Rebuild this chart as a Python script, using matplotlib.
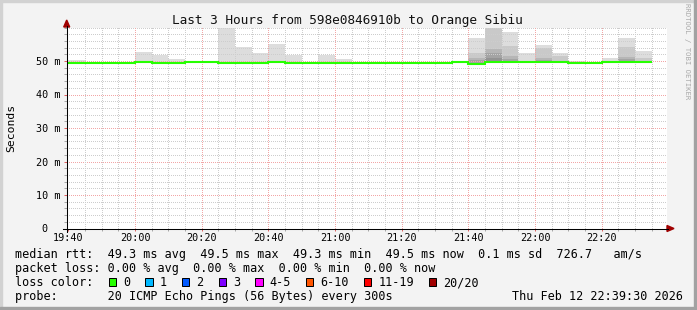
import numpy as np
import pandas as pd
import matplotlib
matplotlib.use("Agg")
import matplotlib.pyplot as plt
from matplotlib.patches import Rectangle, Polygon
from matplotlib.ticker import MultipleLocator, FixedLocator

plt.rcParams['font.family'] = ['DejaVu Sans Mono']

title = "Last 3 Hours from 598e0846910b to Orange Sibiu"
x_tick_labels = ["19:40", "20:00", "20:20", "20:40", "21:00", "21:20", "21:40", "22:00", "22:20"]
y_tick_values = [0, 10, 20, 30, 40, 50]
y_tick_labels = ["0", "10 m", "20 m", "30 m", "40 m", "50 m"]

# median RTT per 5-minute step (ms), steps 19:40 ... 22:35
median_ms = [49.3, 49.3, 49.3, 49.3, 49.6, 49.3, 49.3, 49.6, 49.6, 49.3,
             49.3, 49.3, 49.6, 49.3, 49.3, 49.3, 49.3, 49.3, 49.3, 49.3,
             49.3, 49.3, 49.3, 49.6, 49.2, 49.6, 49.6, 49.6, 49.6, 49.6,
             49.3, 49.3, 49.6, 49.6, 49.6]
ping_min_ms = [49.1, 49.1, 49.1, 49.1, 49.4, 49.1, 49.1, 49.4, 49.4, 49.1,
               49.1, 49.1, 49.4, 49.1, 49.1, 49.1, 49.1, 49.1, 49.1, 49.1,
               49.1, 49.1, 49.1, 49.4, 49.0, 49.4, 49.4, 49.4, 49.4, 49.4,
               49.1, 49.1, 49.4, 49.4, 49.4]
# smoke levels (outermost / lightest first)
smoke_1 = [50.3, 49.3, 49.3, 49.3, 52.7, 51.9, 50.5, 49.6, 49.6, 65.0,
           54.3, 52.3, 55.1, 51.9, 49.3, 51.9, 50.5, 49.3, 49.3, 49.3,
           49.3, 49.3, 49.3, 49.6, 57.0, 65.0, 58.7, 52.5, 54.8, 52.5,
           50.1, 49.3, 51.0, 57.0, 53.0]
smoke_2 = [49.3, 49.3, 49.3, 49.3, 49.6, 49.3, 49.3, 49.6, 49.6, 49.3,
           49.3, 49.3, 49.6, 49.3, 49.3, 49.3, 49.3, 49.3, 49.3, 49.3,
           49.3, 49.3, 49.3, 49.6, 52.4, 65.0, 54.5, 49.6, 54.0, 51.6,
           49.3, 49.3, 49.6, 54.3, 50.8]
smoke_3 = [49.3, 49.3, 49.3, 49.3, 49.6, 49.3, 49.3, 49.6, 49.6, 49.3,
           49.3, 49.3, 49.6, 49.3, 49.3, 49.3, 49.3, 49.3, 49.3, 49.3,
           49.3, 49.3, 49.3, 49.6, 51.0, 53.7, 51.6, 49.6, 51.0, 49.6,
           49.3, 49.3, 49.6, 51.3, 49.6]
smoke_4 = [49.3, 49.3, 49.3, 49.3, 49.6, 49.3, 49.3, 49.6, 49.6, 49.3,
           49.3, 49.3, 49.6, 49.3, 49.3, 49.3, 49.3, 49.3, 49.3, 49.3,
           49.3, 49.3, 49.3, 49.6, 50.4, 52.5, 50.6, 49.6, 50.4, 49.6,
           49.3, 49.3, 49.6, 50.5, 49.6]
smoke_5 = [49.3, 49.3, 49.3, 49.3, 49.6, 49.3, 49.3, 49.6, 49.6, 49.3,
           49.3, 49.3, 49.6, 49.3, 49.3, 49.3, 49.3, 49.3, 49.3, 49.3,
           49.3, 49.3, 49.3, 49.6, 49.2, 50.8, 49.6, 49.6, 49.6, 49.6,
           49.3, 49.3, 49.6, 49.6, 49.6]
smoke_colors = ['#dddddd', '#c9c9c9', '#b6b6b6', '#a4a4a4', '#939393']

legend_lines = [
    "median rtt:  49.3 ms avg  49.5 ms max  49.3 ms min  49.5 ms now  0.1 ms sd  726.7   am/s",
    "packet loss: 0.00 % avg  0.00 % max  0.00 % min  0.00 % now",
    "loss color:",
    "probe:       20 ICMP Echo Pings (56 Bytes) every 300s",
]
loss_labels = ["0", "1", "2", "3", "4-5", "6-10", "11-19", "20/20"]
loss_colors = ['#26ff00', '#00b8ff', '#0059ff', '#7e00ff', '#ff00ff', '#ff5500', '#ff0000', '#a10000']
timestamp = "Thu Feb 12 22:39:30 2026"

W, H = 697, 310
fig = plt.figure(figsize=(W / 100, H / 100), dpi=100, facecolor='#f3f3f3')

def fx(px):
    return px / W

def fy(py):
    return 1 - py / H

# frame
fig.patches.append(Rectangle((0, fy(2)), 1, 2 / H, transform=fig.transFigure, color='#d2d2d2', zorder=0))
fig.patches.append(Rectangle((0, 0), 2 / W, 1, transform=fig.transFigure, color='#d2d2d2', zorder=0))
fig.patches.append(Rectangle((0, 0), 1, 3 / H, transform=fig.transFigure, color='#a2a2a2', zorder=0))
fig.patches.append(Rectangle((1 - 3 / W, 0), 3 / W, 1, transform=fig.transFigure, color='#a2a2a2', zorder=0))

ax_l, ax_r, ax_t, ax_b = 66.7, 666.7, 27.5, 228.5
ax = fig.add_axes([fx(ax_l), fy(ax_b), (ax_r - ax_l) / W, (ax_b - ax_t) / H])
ax.set_facecolor('white')

steps = pd.date_range("2026-02-12 19:40", periods=len(median_ms) + 1, freq="5min")
origin = pd.Timestamp("2026-02-12 19:40")
edges = np.array([(t - origin).total_seconds() / 60 for t in steps])

levels = [smoke_1, smoke_2, smoke_3, smoke_4, smoke_5]
for lvl, col in zip(levels, smoke_colors):
    ax.stairs(lvl, edges, baseline=ping_min_ms, fill=True, color=col, lw=0, zorder=1)
ax.stairs(median_ms, edges, baseline=None, color='#26ff00', lw=1.5, zorder=3)

x0, x1, y0, y1 = -0.5, 179.5, 0, 60
ax.set_xlim(x0, x1)
ax.set_ylim(y0, y1)

# dotted grid (1 px on / 1 px off), drawn over the smoke
px_x = (x1 - x0) / (ax_r - ax_l)
px_y = (y1 - y0) / (ax_b - ax_t)
xs_dots = np.arange(x0 + px_x * 0.5, x1, 2 * px_x)
ys_dots = np.arange(y0 + px_y * 0.5, y1, 2 * px_y)
dot_kw = dict(ls='none', marker='s', markersize=0.72, markeredgewidth=0, zorder=2.5)
for yv in np.arange(2, 61, 2):
    col = '#f2a6a6' if yv % 10 == 0 and yv < 60 else '#cdcdcd'
    ax.plot(xs_dots, np.full_like(xs_dots, yv), color=col, **dot_kw)
for xv in np.arange(5, 180, 5):
    col = '#f2a6a6' if xv % 20 == 0 else '#cdcdcd'
    ax.plot(np.full_like(ys_dots, xv), ys_dots, color=col, **dot_kw)

ax.xaxis.set_major_locator(MultipleLocator(20))
ax.xaxis.set_minor_locator(MultipleLocator(5))
ax.yaxis.set_major_locator(FixedLocator(y_tick_values))
ax.yaxis.set_minor_locator(MultipleLocator(2))
ax.set_xticks(np.arange(0, 180, 20))
ax.set_xticklabels(x_tick_labels, fontsize=7.3)
ax.set_yticklabels([])
ax.tick_params(axis='x', which='both', direction='out', length=1.6, width=0.72, pad=1.5)
ax.tick_params(axis='y', which='both', direction='out', length=2.2, width=0.72, pad=1)
ax.tick_params(which='major', color='#e06060')
ax.tick_params(which='minor', color='#a8a8a8')
for s in ax.spines.values():
    s.set_visible(False)

for v, lab in zip(y_tick_values, y_tick_labels):
    off = -6.5 if lab.endswith('m') else -18.7
    ax.annotate(lab, xy=(0, v), xycoords=ax.get_yaxis_transform(), xytext=(off, 0),
                textcoords='offset pixels', ha='right', va='center_baseline', fontsize=7.3,
                annotation_clip=False)

# axis lines and arrows
fig.add_artist(plt.Line2D([fx(63), fx(668)], [fy(ax_b), fy(ax_b)], transform=fig.transFigure, color='black', lw=0.75, zorder=5))
fig.add_artist(plt.Line2D([fx(ax_l), fx(ax_l)], [fy(232), fy(26)], transform=fig.transFigure, color='black', lw=0.75, zorder=5))
fig.add_artist(Polygon([[fx(667), fy(ax_b - 3)], [fx(674), fy(ax_b)], [fx(667), fy(ax_b + 3)]],
                       closed=True, transform=fig.transFigure, color='#a00000'))
fig.add_artist(Polygon([[fx(ax_l - 3), fy(27)], [fx(ax_l), fy(20)], [fx(ax_l + 3), fy(27)]],
                       closed=True, transform=fig.transFigure, color='#a00000'))

fig.text(0.499, fy(24), title, ha='center', va='baseline', fontsize=9.2, color='#111111')
fig.text(fx(11), fy(128), "Seconds", rotation=90, ha='center', va='center', fontsize=8.2)
fig.text(fx(686.5), fy(51), "RRDTOOL / TOBI OETIKER", rotation=270, ha='center', va='center',
         fontsize=5.2, color='#a9a9a9')

base = 258.3
for i, line in enumerate(legend_lines):
    fig.text(fx(15.3), fy(base + 13.9 * i), line, ha='left', va='baseline', fontsize=8.5)
fig.text(fx(683.5), fy(base + 13.9 * 3), timestamp, ha='right', va='baseline', fontsize=8.5)

cx = 108.7
for lab, col in zip(loss_labels, loss_colors):
    fig.patches.append(Rectangle((fx(cx), fy(286.3)), 7.5 / W, 8 / H, transform=fig.transFigure,
                                 facecolor=col, edgecolor='black', lw=0.72))
    fig.text(fx(cx + 14.6), fy(base + 13.9 * 2), lab, ha='left', va='baseline', fontsize=8.5)
    cx += 29.5 + len(lab) * 7.11

fig.savefig("out.png", dpi=100, facecolor=fig.get_facecolor())
